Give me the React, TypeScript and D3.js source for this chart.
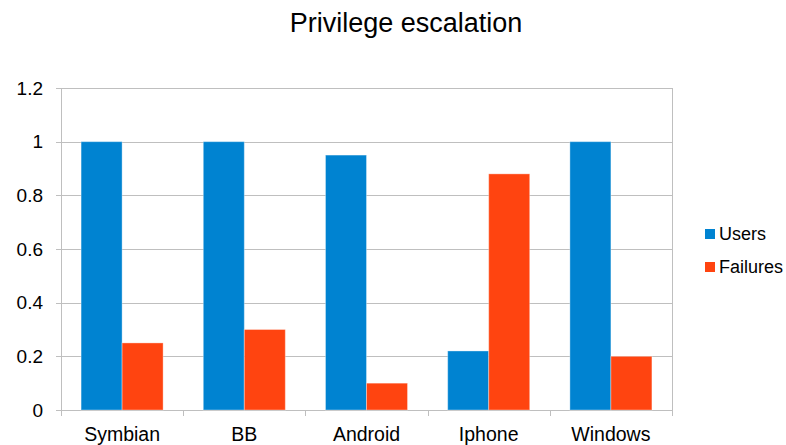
import React, { useEffect, useRef } from 'react';
import * as d3 from 'd3';

const categories = ['Symbian', 'BB', 'Android', 'Iphone', 'Windows'];
const users = [1, 1, 0.95, 0.22, 1];
const failures = [0.25, 0.3, 0.1, 0.88, 0.2];
const seriesNames = ['Users', 'Failures'];
const seriesColors = ['#0083D1', '#FF4410'];
const yTicks = [0, 0.2, 0.4, 0.6, 0.8, 1, 1.2];

const W = 786;
const H = 445;

const App: React.FC = () => {
  const svgRef = useRef<SVGSVGElement>(null);

  useEffect(() => {
    if (!svgRef.current) return;
    const svg = d3.select(svgRef.current);
    svg.selectAll('*').remove();

    const margin = { top: 88, right: 114, bottom: 35, left: 61 };
    const innerWidth = W - margin.left - margin.right;
    const innerHeight = H - margin.top - margin.bottom;
    const font = '"Liberation Sans", Arial, sans-serif';

    const g = svg.append('g').attr('transform', `translate(${margin.left},${margin.top})`);

    const x = d3.scaleBand().domain(categories).range([0, innerWidth]).paddingInner(0).paddingOuter(0);
    const xInner = d3.scaleBand().domain(seriesNames).range([0, x.bandwidth()]).paddingInner(0).paddingOuter(0.49);
    const y = d3.scaleLinear().domain([0, 1.2]).range([innerHeight, 0]);

    // gridlines
    g.selectAll('.grid')
      .data(yTicks)
      .enter().append('line')
      .attr('x1', -5)
      .attr('x2', innerWidth)
      .attr('y1', d => Math.round(y(d)) + 0.5)
      .attr('y2', d => Math.round(y(d)) + 0.5)
      .attr('stroke', '#BFBFBF')
      .attr('stroke-width', 1);

    // right border
    g.append('line')
      .attr('x1', innerWidth + 0.5).attr('x2', innerWidth + 0.5)
      .attr('y1', 0).attr('y2', innerHeight)
      .attr('stroke', '#BFBFBF');

    // y axis line
    g.append('line')
      .attr('x1', 0.5).attr('x2', 0.5)
      .attr('y1', 0).attr('y2', innerHeight + 6)
      .attr('stroke', '#BFBFBF');

    // x category ticks
    const edges = categories.map(c => x(c)!).concat([innerWidth]);
    g.selectAll('.xtick')
      .data(edges.slice(1))
      .enter().append('line')
      .attr('x1', d => Math.round(d) + 0.5)
      .attr('x2', d => Math.round(d) + 0.5)
      .attr('y1', innerHeight)
      .attr('y2', innerHeight + 6)
      .attr('stroke', '#BFBFBF');

    // y labels
    g.selectAll('.ylabel')
      .data(yTicks)
      .enter().append('text')
      .attr('x', -18)
      .attr('y', d => y(d))
      .attr('dy', '0.35em')
      .attr('text-anchor', 'end')
      .style('font-family', font)
      .style('font-size', '19px')
      .style('fill', '#000')
      .text(d => (d === 0 || d === 1 ? String(d) : d.toFixed(1)));

    // x labels
    g.selectAll('.xlabel')
      .data(categories)
      .enter().append('text')
      .attr('x', d => x(d)! + x.bandwidth() / 2)
      .attr('y', innerHeight + 31)
      .attr('text-anchor', 'middle')
      .style('font-family', font)
      .style('font-size', '19.5px')
      .style('fill', '#000')
      .text(d => d);

    // bars
    const seriesData = [users, failures];
    seriesNames.forEach((s, si) => {
      g.selectAll(`.bar-${si}`)
        .data(categories)
        .enter().append('rect')
        .attr('x', d => x(d)! + xInner(s)!)
        .attr('y', (d, i) => y(seriesData[si][i]))
        .attr('width', xInner.bandwidth())
        .attr('height', (d, i) => innerHeight - y(seriesData[si][i]))
        .attr('fill', seriesColors[si])
        .attr('stroke', 'rgba(255,255,255,0.35)')
        .attr('stroke-width', 1);
    });

    // title
    svg.append('text')
      .attr('x', 406)
      .attr('y', 32)
      .attr('text-anchor', 'middle')
      .style('font-family', font)
      .style('font-size', '27px')
      .style('fill', '#000')
      .text('Privilege escalation');

    // legend
    const legend = svg.append('g').attr('transform', 'translate(705,229)');
    seriesNames.forEach((s, i) => {
      const row = legend.append('g').attr('transform', `translate(0,${i * 33})`);
      row.append('rect')
        .attr('width', 10).attr('height', 10)
        .attr('fill', seriesColors[i]);
      row.append('text')
        .attr('x', 14)
        .attr('y', 5)
        .attr('dy', '0.35em')
        .style('font-family', font)
        .style('font-size', '18px')
        .style('fill', '#000')
        .text(s);
    });
  }, []);

  return (
    <svg
      ref={svgRef}
      width={W}
      height={H}
      style={{ position: 'absolute', left: 0, top: 0, background: '#fff' }}
    />
  );
};

export default App;
